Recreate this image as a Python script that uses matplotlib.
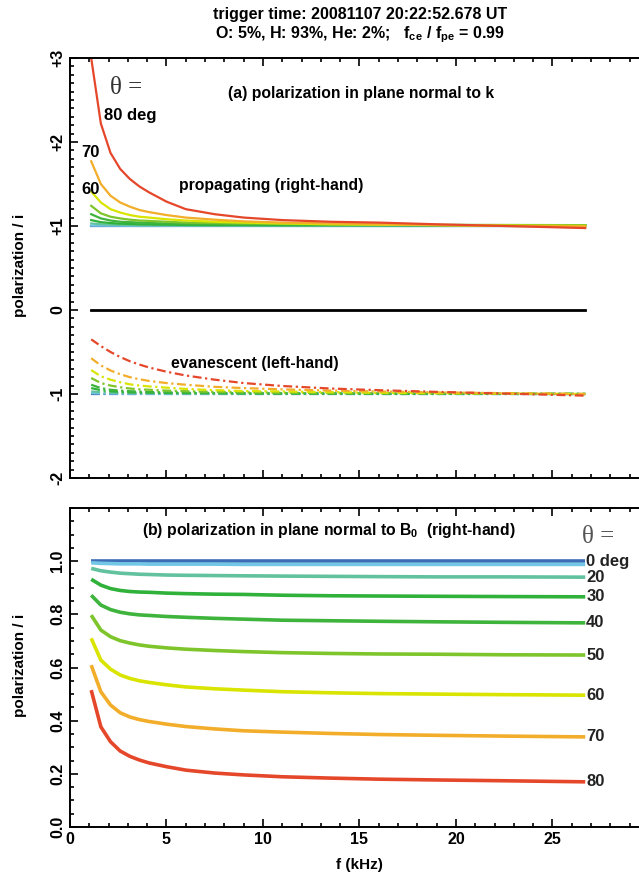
import matplotlib
matplotlib.use("Agg")
import matplotlib.pyplot as plt
from matplotlib.ticker import MultipleLocator

plt.rcParams['font.family'] = ['Liberation Sans', 'DejaVu Sans']
plt.rcParams['font.weight'] = 'bold'
plt.rcParams['axes.labelweight'] = 'bold'
plt.rcParams['mathtext.fontset'] = 'custom'
plt.rcParams['mathtext.rm'] = 'Liberation Sans:bold'
plt.rcParams['mathtext.bf'] = 'Liberation Sans:bold'
plt.rcParams['mathtext.it'] = 'Liberation Sans:bold'

# frequency grid (kHz)
freq = [1.1, 1.6, 2.1, 2.6, 3.1, 3.6, 4.1, 5.0, 6.0, 7.5, 9.0, 11.0, 13.5, 16.0, 19.0, 22.5, 26.7]

angles = [0, 10, 20, 30, 40, 50, 60, 70, 80]
colors = ['#3b6cb4', '#72c6e6', '#62c29e', '#2fb13a', '#3eb43c', '#7ec52c', '#d9e400', '#f2ad2a', '#e5472b']

# (a) propagating (right-hand) polarization / i
prop_0 = [1.0] * 17
prop_10 = [1.005, 1.004, 1.003, 1.003, 1.002, 1.002, 1.002, 1.002, 1.001, 1.001, 1.001, 1.001, 1.001, 1.0, 1.0, 1.0, 1.0]
prop_20 = [1.03, 1.02, 1.015, 1.012, 1.01, 1.009, 1.008, 1.007, 1.006, 1.005, 1.005, 1.004, 1.004, 1.004, 1.003, 1.003, 1.003]
prop_30 = [1.07, 1.045, 1.035, 1.028, 1.024, 1.02, 1.018, 1.015, 1.012, 1.01, 1.01, 1.008, 1.008, 1.007, 1.007, 1.006, 1.006]
prop_40 = [1.14, 1.09, 1.065, 1.05, 1.045, 1.04, 1.035, 1.03, 1.025, 1.022, 1.02, 1.018, 1.015, 1.014, 1.012, 1.011, 1.01]
prop_50 = [1.24, 1.15, 1.11, 1.09, 1.075, 1.065, 1.06, 1.05, 1.04, 1.035, 1.03, 1.025, 1.02, 1.015, 1.012, 1.011, 1.01]
prop_60 = [1.41, 1.28, 1.20, 1.16, 1.13, 1.11, 1.10, 1.08, 1.065, 1.05, 1.04, 1.03, 1.02, 1.015, 1.01, 1.005, 1.0]
prop_70 = [1.77, 1.50, 1.36, 1.28, 1.23, 1.19, 1.165, 1.13, 1.10, 1.075, 1.055, 1.04, 1.03, 1.02, 1.01, 1.0, 0.995]
prop_80 = [3.0, 2.22, 1.87, 1.68, 1.56, 1.47, 1.40, 1.29, 1.20, 1.14, 1.10, 1.07, 1.05, 1.04, 1.02, 1.0, 0.975]

# (a) evanescent (left-hand) polarization / i
evan_0 = [-1.0] * 17
evan_10 = [-0.99, -0.993, -0.995, -0.996, -0.997, -0.997, -0.998, -0.998, -0.998, -0.999, -0.999, -0.999, -0.999, -1.0, -1.0, -1.0, -1.0]
evan_20 = [-0.97, -0.98, -0.985, -0.988, -0.99, -0.991, -0.992, -0.993, -0.994, -0.995, -0.996, -0.997, -0.997, -0.998, -0.998, -0.999, -1.0]
evan_30 = [-0.93, -0.955, -0.968, -0.975, -0.98, -0.983, -0.985, -0.988, -0.99, -0.992, -0.994, -0.995, -0.996, -0.997, -0.998, -0.999, -1.0]
evan_40 = [-0.89, -0.93, -0.95, -0.96, -0.967, -0.972, -0.976, -0.98, -0.984, -0.988, -0.99, -0.992, -0.994, -0.996, -0.997, -0.998, -1.0]
evan_50 = [-0.81, -0.87, -0.90, -0.92, -0.935, -0.945, -0.95, -0.96, -0.967, -0.975, -0.98, -0.985, -0.99, -0.992, -0.995, -0.997, -1.0]
evan_60 = [-0.715, -0.79, -0.83, -0.86, -0.885, -0.90, -0.91, -0.925, -0.94, -0.955, -0.965, -0.97, -0.978, -0.985, -0.99, -0.995, -1.0]
evan_70 = [-0.575, -0.66, -0.72, -0.765, -0.80, -0.825, -0.845, -0.87, -0.89, -0.915, -0.93, -0.945, -0.96, -0.97, -0.98, -0.99, -1.0]
evan_80 = [-0.35, -0.43, -0.50, -0.56, -0.61, -0.65, -0.685, -0.735, -0.78, -0.83, -0.87, -0.905, -0.935, -0.955, -0.975, -0.995, -1.02]

# (b) polarization in plane normal to B0 / i
b_0 = [1.0] * 17
b_10 = [0.994, 0.992, 0.991, 0.99, 0.99, 0.99, 0.989, 0.989, 0.989, 0.989, 0.988, 0.988, 0.988, 0.988, 0.988, 0.988, 0.988]
b_20 = [0.973, 0.964, 0.959, 0.955, 0.953, 0.951, 0.95, 0.948, 0.947, 0.946, 0.945, 0.944, 0.943, 0.942, 0.941, 0.941, 0.940]
b_30 = [0.932, 0.91, 0.897, 0.89, 0.886, 0.884, 0.883, 0.88, 0.878, 0.876, 0.875, 0.872, 0.87, 0.869, 0.868, 0.867, 0.866]
b_40 = [0.872, 0.835, 0.818, 0.808, 0.802, 0.798, 0.796, 0.792, 0.789, 0.785, 0.782, 0.778, 0.776, 0.774, 0.772, 0.77, 0.768]
b_50 = [0.797, 0.741, 0.716, 0.701, 0.692, 0.685, 0.68, 0.674, 0.669, 0.664, 0.66, 0.656, 0.653, 0.651, 0.65, 0.648, 0.647]
b_60 = [0.710, 0.628, 0.594, 0.572, 0.559, 0.55, 0.544, 0.535, 0.527, 0.52, 0.515, 0.509, 0.505, 0.502, 0.5, 0.498, 0.496]
b_70 = [0.609, 0.509, 0.459, 0.43, 0.414, 0.404, 0.397, 0.387, 0.378, 0.369, 0.362, 0.357, 0.352, 0.348, 0.345, 0.342, 0.339]
b_80 = [0.515, 0.377, 0.321, 0.286, 0.266, 0.252, 0.241, 0.227, 0.214, 0.203, 0.196, 0.189, 0.184, 0.18, 0.177, 0.174, 0.170]

prop = [prop_0, prop_10, prop_20, prop_30, prop_40, prop_50, prop_60, prop_70, prop_80]
evan = [evan_0, evan_10, evan_20, evan_30, evan_40, evan_50, evan_60, evan_70, evan_80]
bpol = [b_0, b_10, b_20, b_30, b_40, b_50, b_60, b_70, b_80]

top_ticks = [3, 2, 1, 0, -1, -2]
top_ticklabels = ['+3', '+2', '+1', '0', '-1', '-2']
bot_ticks = [0.0, 0.2, 0.4, 0.6, 0.8, 1.0]
bot_ticklabels = ['0.0', '0.2', '0.4', '0.6', '0.8', '1.0']
x_ticks = [0, 5, 10, 15, 20, 25, 30]
x_ticklabels = ['0', '5', '10', '15', '20', '25', '']
right_labels = ['0 deg', '', '20', '30', '40', '50', '60', '70', '80']

fig = plt.figure(figsize=(6.39, 8.77), dpi=100)
ax1 = fig.add_axes([0.1095, 0.4550, 0.906, 0.4789])
ax2 = fig.add_axes([0.1095, 0.0570, 0.906, 0.3637])


def style_axis(ax):
    for sp in ax.spines.values():
        sp.set_linewidth(1.4)
    ax.set_xlim(0, 30)
    ax.set_xticks(x_ticks)
    ax.xaxis.set_minor_locator(MultipleLocator(1))
    ax.tick_params(which='both', direction='in', top=True, right=True, width=1.2, labelsize=11.5)
    ax.tick_params(which='major', length=6)
    ax.tick_params(which='minor', length=3.2)


# ---- panel (a)
style_axis(ax1)
for vals, col in zip(prop, colors):
    ax1.plot(freq, vals, color=col, lw=1.6, solid_joinstyle='round')
for vals, col in zip(evan, colors):
    ax1.plot(freq, vals, color=col, lw=1.6, linestyle=(0, (4, 1.6, 1, 1.6)))
ax1.plot([freq[0], freq[-1]], [0, 0], color='black', lw=2)
ax1.set_ylim(-2, 3)
ax1.yaxis.set_minor_locator(MultipleLocator(0.1))
ax1.set_yticks(top_ticks)
ax1.set_yticklabels(top_ticklabels, rotation=90, va='center')
ax1.set_xticklabels([])
ax1.text(2.1, 2.64, 'θ =', family=['Liberation Serif', 'DejaVu Serif'], fontweight='normal',
         fontsize=18, color='#333333', ha='left', va='center')
ax1.text(1.75, 2.32, '80 deg', fontsize=12, ha='left', va='center')
ax1.text(0.6, 1.87, '70', fontsize=12, ha='left', va='center')
ax1.text(0.6, 1.44, '60', fontsize=12, ha='left', va='center')
ax1.text(15.1, 2.58, '(a) polarization in plane normal to k', fontsize=11.3, ha='center', va='center')
ax1.text(5.65, 1.476, 'propagating (right-hand)', fontsize=11.3, ha='left', va='center')
ax1.text(5.24, -0.643, 'evanescent (left-hand)', fontsize=11.3, ha='left', va='center')

# ---- panel (b)
style_axis(ax2)
ax2.set_xticklabels(x_ticklabels)
for vals, col, lab in zip(bpol, colors, right_labels):
    ax2.plot(freq, vals, color=col, lw=2.6, solid_capstyle='butt')
    if lab:
        ax2.text(freq[-1] + 0.05, vals[-1], lab, fontsize=12, ha='left', va='center', color='#222222')
ax2.set_ylim(0, 1.2)
ax2.yaxis.set_minor_locator(MultipleLocator(0.05))
ax2.set_yticks(bot_ticks)
ax2.set_yticklabels(bot_ticklabels, rotation=90, va='center')
ax2.text(26.55, 1.09, 'θ =', family=['Liberation Serif', 'DejaVu Serif'], fontweight='normal',
         fontsize=18, color='#555555', ha='left', va='center')
ax2.text(13.4, 1.117, r'(b) polarization in plane normal to B$_{0}$  (right-hand)', fontsize=11.3,
         ha='center', va='center')
ax2.set_xlabel('f (kHz)', fontsize=11, fontweight='bold', labelpad=8)

fig.text(0.031, 1 - 265 / 877, 'polarization / i', rotation=90, fontsize=11, ha='center', va='center')
fig.text(0.031, 1 - 665 / 877, 'polarization / i', rotation=90, fontsize=11, ha='center', va='center')

fig.text(0.563, 1 - 14 / 877, 'trigger time: 20081107 20:22:52.678 UT', fontsize=11.5, ha='center', va='center')
fig.text(0.563, 1 - 35 / 877, r'O: 5%, H: 93%, He: 2%;   f$_{ce}$ / f$_{pe}$ = 0.99', fontsize=11.5,
         ha='center', va='center')

fig.savefig('out.png', dpi=100)
